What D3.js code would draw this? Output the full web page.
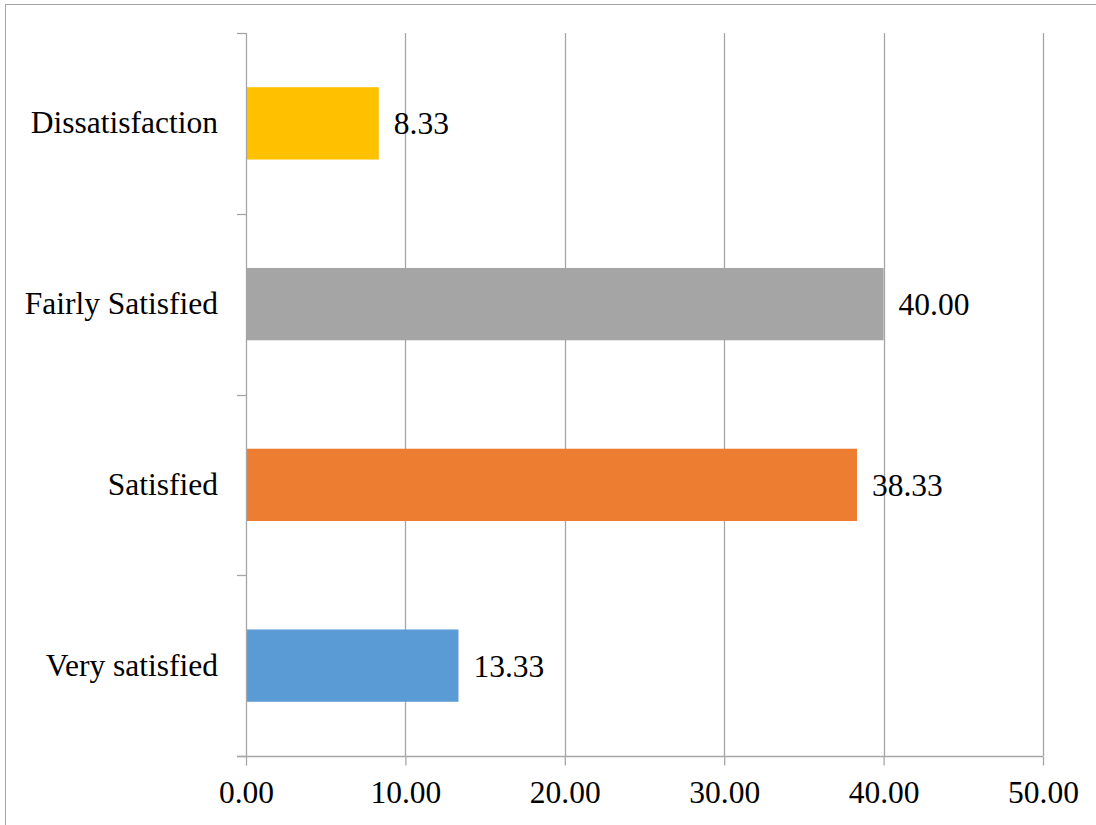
<!DOCTYPE html>
<html>
<head>
<meta charset="utf-8">
<script src="https://cdn.jsdelivr.net/npm/d3@7"></script>
<style>
  body { margin: 0; background: #fff; }
  svg { display: block; }
  svg text { font-family: "Liberation Serif", "Times New Roman", Times, "DejaVu Serif", serif; }
</style>
</head>
<body>
<div id="chart"></div>
<script>
const categories = ["Dissatisfaction", "Fairly Satisfied", "Satisfied", "Very satisfied"];
const values = [8.33, 40.00, 38.33, 13.33];
const barColors = ["#FFC000", "#A5A5A5", "#ED7D31", "#5B9BD5"];
const xTicks = [0, 10, 20, 30, 40, 50];

const width = 1096;
const height = 825;
const marginTop = 33;
const marginRight = 53;
const marginBottom = 69;
const marginLeft = 246;
const fontSize = 31.5;

const x = d3.scaleLinear()
    .domain([0, 50])
    .range([marginLeft, width - marginRight]);

const y = d3.scaleBand()
    .domain(categories)
    .range([marginTop, height - marginBottom])
    .paddingInner(0.6)
    .paddingOuter(0.3);

const svg = d3.select("#chart").append("svg")
    .attr("width", width)
    .attr("height", height)
    .attr("viewBox", [0, 0, width, height]);

// outer chart border
svg.append("rect")
    .attr("x", 5.5)
    .attr("y", 4.5)
    .attr("width", width + 10)
    .attr("height", height + 10)
    .attr("fill", "none")
    .attr("stroke", "#a6a6a6")
    .attr("stroke-width", 1);

// vertical gridlines
svg.append("g")
    .selectAll("line")
    .data(xTicks.slice(1))
    .join("line")
    .attr("x1", d => Math.round(x(d)) + 0.5)
    .attr("x2", d => Math.round(x(d)) + 0.5)
    .attr("y1", marginTop)
    .attr("y2", height - marginBottom)
    .attr("stroke", "#a6a6a6")
    .attr("stroke-width", 1.3);

// bars
svg.append("g")
    .selectAll("rect")
    .data(categories)
    .join("rect")
    .attr("x", x(0))
    .attr("y", d => y(d))
    .attr("width", (d, i) => x(values[i]) - x(0))
    .attr("height", y.bandwidth())
    .attr("fill", (d, i) => barColors[i]);

// value labels
svg.append("g")
    .selectAll("text")
    .data(categories)
    .join("text")
    .attr("x", (d, i) => x(values[i]) + 15)
    .attr("y", d => y(d) + y.bandwidth() / 2 + 11)
    .style("font-size", fontSize + "px")
    .attr("fill", "#000")
    .text((d, i) => values[i].toFixed(2));

// x axis
const xAxis = svg.append("g")
    .attr("transform", `translate(0,${height - marginBottom + 0.5})`)
    .call(d3.axisBottom(x).tickValues(xTicks).tickFormat(d3.format(".2f")).tickSize(9).tickSizeOuter(0).tickPadding(15));
xAxis.attr("font-family", null).attr("font-size", null);
xAxis.select(".domain").remove();
xAxis.append("line")
    .attr("x1", marginLeft - 9)
    .attr("x2", width - marginRight)
    .attr("stroke", "#a6a6a6")
    .attr("stroke-width", 1.3);
xAxis.selectAll(".tick line").attr("stroke", "#a6a6a6").attr("stroke-width", 1.3);
xAxis.selectAll(".tick text")
    .style("font-size", fontSize + "px")
    .attr("fill", "#000")
    .attr("dy", "0.71em");

// y axis: line with separators between categories
const yAxis = svg.append("g");
yAxis.append("line")
    .attr("x1", marginLeft + 0.5)
    .attr("x2", marginLeft + 0.5)
    .attr("y1", marginTop)
    .attr("y2", height - marginBottom)
    .attr("stroke", "#a6a6a6")
    .attr("stroke-width", 1.3);
const sepY = d3.range(categories.length + 1).map(i => marginTop + i * (height - marginBottom - marginTop) / categories.length);
yAxis.selectAll("line.sep")
    .data(sepY)
    .join("line")
    .attr("class", "sep")
    .attr("x1", marginLeft - 9)
    .attr("x2", marginLeft)
    .attr("y1", d => Math.round(d) + 0.5)
    .attr("y2", d => Math.round(d) + 0.5)
    .attr("stroke", "#a6a6a6")
    .attr("stroke-width", 1.3);

// category labels
yAxis.selectAll("text")
    .data(categories)
    .join("text")
    .attr("x", marginLeft - 28)
    .attr("y", d => y(d) + y.bandwidth() / 2 + 10)
    .attr("text-anchor", "end")
    .style("font-size", fontSize + "px")
    .attr("fill", "#000")
    .text(d => d);
</script>
</body>
</html>
